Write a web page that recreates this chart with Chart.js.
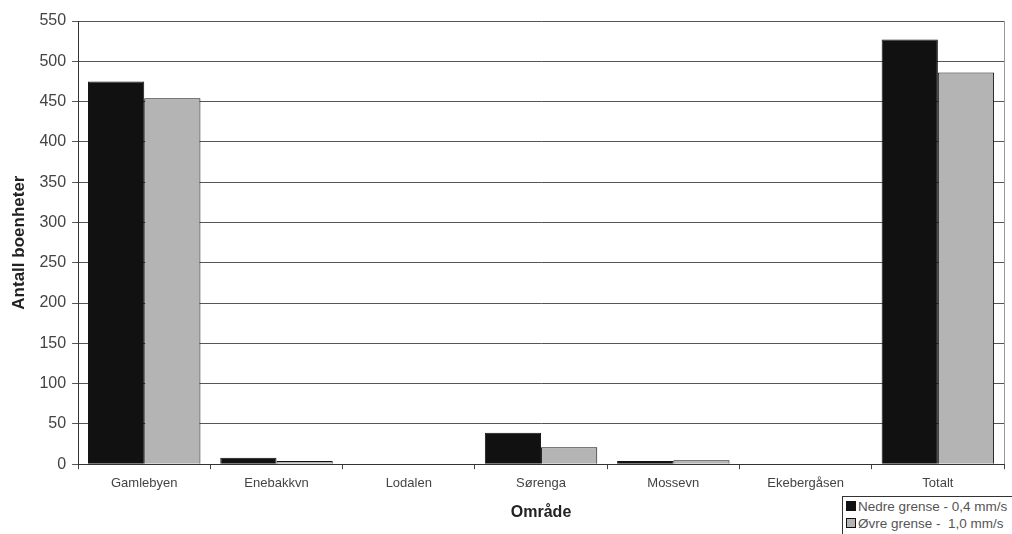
<!DOCTYPE html>
<html>
<head>
<meta charset="utf-8">
<script src="https://cdn.jsdelivr.net/npm/chart.js"></script>
<style>
  html, body { margin: 0; padding: 0; background: #fff; overflow: hidden; }
  #wrap { position: relative; width: 1012px; height: 534px; }
  #legend {
    position: absolute; left: 842px; top: 496px; width: 174px; height: 40px;
    border: 1px solid #333; background: #fff;
    font: 13.5px "Liberation Sans", Arial, sans-serif; color: #555;
    box-sizing: border-box; padding: 1px 0 0 3px; line-height: 17px;
    white-space: nowrap;
  }
  #legend span.box {
    display: inline-block; width: 8px; height: 8px; border: 1px solid #111;
    margin-right: 2px; vertical-align: 0px;
  }
</style>
</head>
<body>
<div id="wrap">
  <canvas id="chart" width="1012" height="534"></canvas>
  <div id="legend"></div>
</div>
<script>
const categories = ['Gamlebyen', 'Enebakkvn', 'Lodalen', 'Sørenga', 'Mossevn', 'Ekebergåsen', 'Totalt'];
const nedre = [475, 8, 0, 39, 4, 0, 527];
const ovre = [454, 4, 0, 21, 5, 0, 486];
const seriesLabels = ['Nedre grense - 0,4 mm/s', 'Øvre grense -  1,0 mm/s'];
const seriesColors = ['#111111', '#b4b4b4'];

const frame = {
  id: 'frame',
  afterDraw(chart) {
    const { ctx, chartArea: a } = chart;
    ctx.save();
    ctx.strokeStyle = '#999';
    ctx.lineWidth = 1;
    ctx.beginPath();
    ctx.moveTo(a.right + 0.5, a.top);
    ctx.lineTo(a.right + 0.5, a.bottom);
    ctx.stroke();
    ctx.restore();
  }
};

const chart = new Chart(document.getElementById('chart'), {
  type: 'bar',
  data: {
    labels: categories,
    datasets: [
      { label: seriesLabels[0], data: nedre, backgroundColor: seriesColors[0], borderColor: '#111', borderWidth: 1 },
      { label: seriesLabels[1], data: ovre, backgroundColor: seriesColors[1], borderColor: '#111', borderWidth: 1 }
    ]
  },
  options: {
    responsive: false,
    animation: false,
    layout: { padding: { left: 5, right: 8, top: 21, bottom: 8 } },
    datasets: { bar: { categoryPercentage: 0.85, barPercentage: 1.0 } },
    plugins: { legend: { display: false }, tooltip: { enabled: false } },
    scales: {
      x: {
        offset: true,
        grid: { offset: true, drawOnChartArea: false, color: '#444', tickLength: 5 },
        border: { color: '#333' },
        ticks: { color: '#444', font: { family: 'Liberation Sans', size: 13 }, padding: 6 },
        title: { display: true, text: 'Område', color: '#222', font: { family: 'Liberation Sans', size: 16, weight: 'bold' }, padding: { top: 6 } }
      },
      y: {
        min: 0, max: 550,
        ticks: { stepSize: 50, color: '#444', font: { family: 'Liberation Sans', size: 16 }, padding: 6 },
        grid: { color: '#555', tickLength: 6 },
        border: { color: '#333' },
        title: { display: true, text: 'Antall boenheter', color: '#222', font: { family: 'Liberation Sans', size: 17, weight: 'bold' }, padding: { bottom: 4 } }
      }
    }
  },
  plugins: [frame]
});

document.getElementById('legend').innerHTML = seriesLabels.map((l, i) =>
  '<div><span class="box" style="background:' + seriesColors[i] + '"></span>' + l.replace(/  /g, ' &nbsp;') + '</div>'
).join('');
</script>
</body>
</html>
